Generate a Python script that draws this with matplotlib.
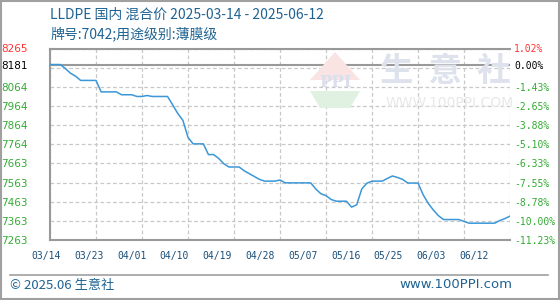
import numpy as np
import matplotlib.pyplot as plt
from matplotlib.patches import Polygon, Rectangle
from matplotlib.transforms import blended_transform_factory

plt.rcParams['font.family'] = ['Noto Sans CJK SC', 'DejaVu Sans']

# dane: cena dzienna od 03/14 do 06/12
prices = [8181, 8181, 8181, 8160, 8136, 8120, 8098, 8098, 8098, 8098,
          8038, 8038, 8038, 8038, 8023, 8023, 8023, 8014, 8014, 8019,
          8014, 8014, 8014, 8014, 7970, 7925, 7889, 7800, 7766, 7766,
          7766, 7710, 7710, 7690, 7662, 7645, 7645, 7645, 7625, 7610,
          7595, 7580, 7571, 7571, 7571, 7577, 7562, 7562, 7562, 7562,
          7562, 7562, 7530, 7505, 7495, 7475, 7466, 7466, 7466, 7435,
          7447, 7530, 7560, 7571, 7571, 7571, 7585, 7598, 7590, 7580,
          7561, 7561, 7561, 7500, 7455, 7420, 7390, 7370, 7370, 7370,
          7370, 7360, 7351, 7351, 7351, 7351, 7351, 7351, 7365, 7375,
          7388]
base_price = 8181
date_labels = ['03/14', '03/23', '04/01', '04/10', '04/19', '04/28',
               '05/07', '05/16', '05/25', '06/03', '06/12']
left_ticks = [8265, 8181, 8064.6, 7964.4, 7864.2, 7764, 7663.8, 7563.6, 7463.4, 7363.2, 7263]
left_labels = ['8265', '8181', '8064', '7964', '7864', '7764', '7663', '7563', '7463', '7363', '7263']
right_labels = ['1.02%', '0.00%', '-1.43%', '-2.65%', '-3.88%', '-5.10%',
                '-6.33%', '-7.55%', '-8.78%', '-10.00%', '-11.23%']
grid_vals = [7263 + 100.2 * k for k in range(11)]

title = 'LLDPE 国内 混合价 2025-03-14 - 2025-06-12'
subtitle = '牌号:7042;用途级别:薄膜级'

W, H = 560, 300
fig = plt.figure(figsize=(5.6, 3.0), dpi=100)

def fx(px):
    return px / W

def fy(py):
    return 1 - py / H

# ramka figury
fig.patches.append(Rectangle((0.001, 0.002), 0.997, 0.995, transform=fig.transFigure,
                             fill=False, edgecolor='#a0a0a0', linewidth=1.5))

# znak wodny
logo = [
    ([(310, 80), (335, 52), (360, 80)], '#f9e3e3'),
    ([(310, 91), (360, 91), (350, 108), (320, 108)], '#e1f1e1'),
]
for pts, col in logo:
    fig.patches.append(Polygon([(fx(a), fy(b)) for a, b in pts], closed=True,
                               transform=fig.transFigure, facecolor=col, edgecolor='none', zorder=0))
fig.text(fx(335), fy(83), 'PPI', color='#d9dfec', fontsize=12, fontweight='bold',
         ha='center', va='center', family='DejaVu Serif', zorder=0)
fig.text(fx(445), fy(72), '生  意  社', color='#dde2ec', fontsize=24, fontweight='bold',
         ha='center', va='center', zorder=0)
fig.text(fx(450), fy(103), 'WWW.100PPI.COM', color='#e8e8e8', fontsize=10,
         ha='center', va='center', family='DejaVu Sans', zorder=0)

ax = fig.add_axes([fx(50), fy(240), fx(460), (240 - 48.5) / H])
ax.patch.set_alpha(0)
days = np.arange(len(prices))
ax.set_xlim(0, len(prices) - 1)
ax.set_ylim(7263, 8265)

for v in grid_vals:
    ax.axhline(v, color='#c8c8c8', linestyle=(0, (3, 2)), linewidth=0.9, zorder=1)
for d in range(0, len(prices), 9):
    ax.axvline(d, color='#c8c8c8', linestyle=(0, (3, 2)), linewidth=0.9, zorder=1)
ax.axhline(base_price, color='#999999', linewidth=1.5, zorder=2)

ax.plot(days, prices, color='#3b97d8', linewidth=1.1, zorder=3)

for side in ['left', 'bottom', 'top']:
    ax.spines[side].set_color('#999999')
    ax.spines[side].set_linewidth(1.5)
ax.spines['right'].set_visible(False)

ax.set_xticks([])
ax.set_yticks(left_ticks)
ax.set_yticklabels(left_labels, fontsize=7.5, family='DejaVu Sans')
ax.tick_params(axis='y', length=0, pad=16)
for lbl, col in zip(ax.get_yticklabels(), ['#ff3333', '#000000'] + ['#33aa33'] * 9):
    lbl.set_color(col)

ax2 = ax.twinx()
ax2.set_ylim(ax.get_ylim())
ax2.set_yticks(left_ticks)
ax2.set_yticklabels(right_labels, fontsize=7, family='DejaVu Sans Mono')
ax2.tick_params(axis='y', length=0, pad=3)
for lbl, col in zip(ax2.get_yticklabels(), ['#ff3333', '#000000'] + ['#33aa33'] * 9):
    lbl.set_color(col)
for s in ax2.spines.values():
    s.set_visible(False)

# etykiety dat (przesunięte jak w oryginale)
tr = blended_transform_factory(ax.transAxes, fig.transFigure)
for k, lab in enumerate(date_labels):
    xc = (46 + 42.8 * k - 50) / 460
    ax.text(xc, fy(256), lab, transform=tr, ha='center', va='center',
            fontsize=7, family='DejaVu Sans Mono', color='#1a4f7a')

fig.text(fx(50), fy(15), title, color='#1f6392', fontsize=10, va='center', ha='left')
fig.text(fx(50), fy(34), subtitle, color='#1f6392', fontsize=10, va='center', ha='left')

fig.add_artist(plt.Line2D([fx(10), fx(548)], [fy(275), fy(275)], transform=fig.transFigure,
                          color='#a0a0a0', linewidth=1.2))
fig.text(fx(10), fy(285), '© 2025.06 生意社', color='#1f6392', fontsize=9.5, va='center', ha='left')
fig.text(fx(512), fy(285), 'www.100PPI.com', color='#1f6392', fontsize=9.5, va='center',
         ha='right', family='DejaVu Sans')

fig.savefig('out.png', dpi=100)
